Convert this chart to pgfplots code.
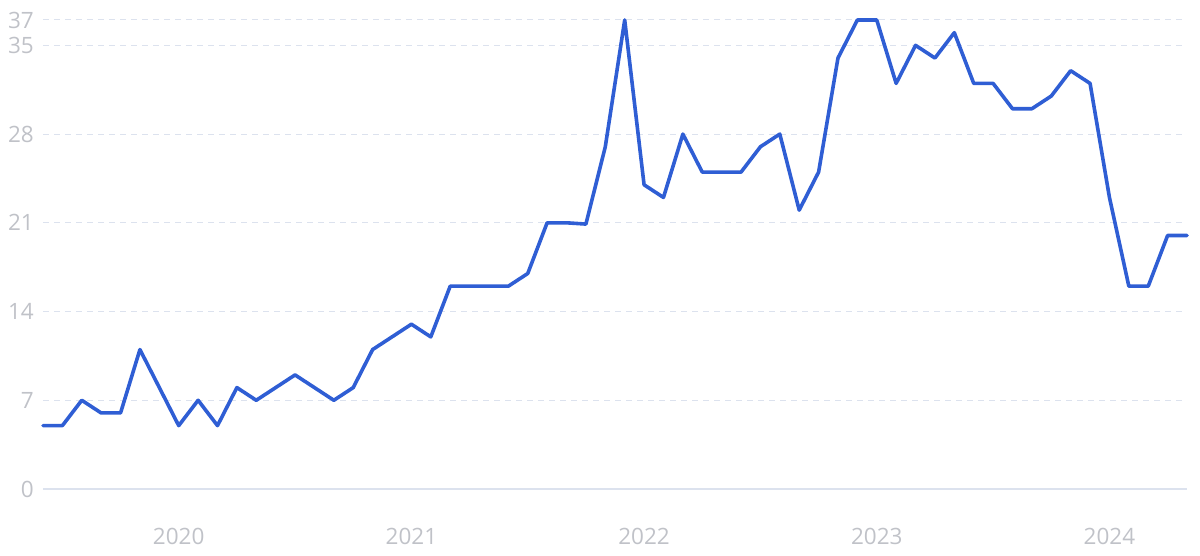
\documentclass[border=0pt]{standalone}
\usepackage{pgfplots}
\pgfplotsset{compat=1.18}
\usepackage{fontspec}
\setmainfont{Open Sans}

\definecolor{lineblue}{RGB}{47,94,212}
\definecolor{gridgray}{RGB}{220,226,238}
\definecolor{labelgray}{RGB}{192,194,200}

% monthly values, Jun 2019 .. May 2024 (x in decimal years)
\pgfplotstableread{
x y
2019.4167 5
2019.5000 5
2019.5833 7
2019.6667 6
2019.7500 6
2019.8333 11
2019.9167 8
2020.0000 5
2020.0833 7
2020.1667 5
2020.2500 8
2020.3333 7
2020.4167 8
2020.5000 9
2020.5833 8
2020.6667 7
2020.7500 8
2020.8333 11
2020.9167 12
2021.0000 13
2021.0833 12
2021.1667 16
2021.2500 16
2021.3333 16
2021.4167 16
2021.5000 17
2021.5833 21
2021.6667 21
2021.7500 20.9
2021.8333 27
2021.9167 37
2022.0000 24
2022.0833 23
2022.1667 28
2022.2500 25
2022.3333 25
2022.4167 25
2022.5000 27
2022.5833 28
2022.6667 22
2022.7500 25
2022.8333 34
2022.9167 37
2023.0000 37
2023.0833 32
2023.1667 35
2023.2500 34
2023.3333 36
2023.4167 32
2023.5000 32
2023.5833 30
2023.6667 30
2023.7500 31
2023.8333 33
2023.9167 32
2024.0000 23
2024.0833 16
2024.1667 16
2024.2500 20
2024.3333 20
}\datatable

\begin{document}
\begin{tikzpicture}
\path[use as bounding box] (0,0) rectangle (1200pt,555pt);
\begin{axis}[
    at={(43pt,66pt)}, anchor=south west,
    scale only axis,
    width=1144pt, height=469pt,
    xmin=2019.4167, xmax=2024.3333,
    ymin=0, ymax=37,
    xtick={2020,2021,2022,2023,2024},
    xticklabels={2020,2021,2022,2023,2024},
    ytick={0,7,14,21,28,35,37},
    axis line style={draw=none},
    major tick length=0pt,
    tick style={draw=none},
    ymajorgrids=true,
    grid style={gridgray, line width=1pt, dash pattern=on 6pt off 5pt},
    extra y ticks={0},
    extra y tick style={grid style={gridgray, line width=1.2pt, solid}},
    extra y tick labels={},
    tick label style={font=\fontsize{22.5}{26}\selectfont, text=labelgray},
    /pgf/number format/assume math mode=true,
    yticklabel style={anchor=east, inner sep=0pt, xshift=-9pt},
    xticklabel style={anchor=north, inner sep=0pt, yshift=-39pt},
    clip=false,
]
\addplot[lineblue, line width=3.6pt, line join=round, line cap=round] table[x=x, y=y] {\datatable};
\end{axis}
\end{tikzpicture}
\end{document}
